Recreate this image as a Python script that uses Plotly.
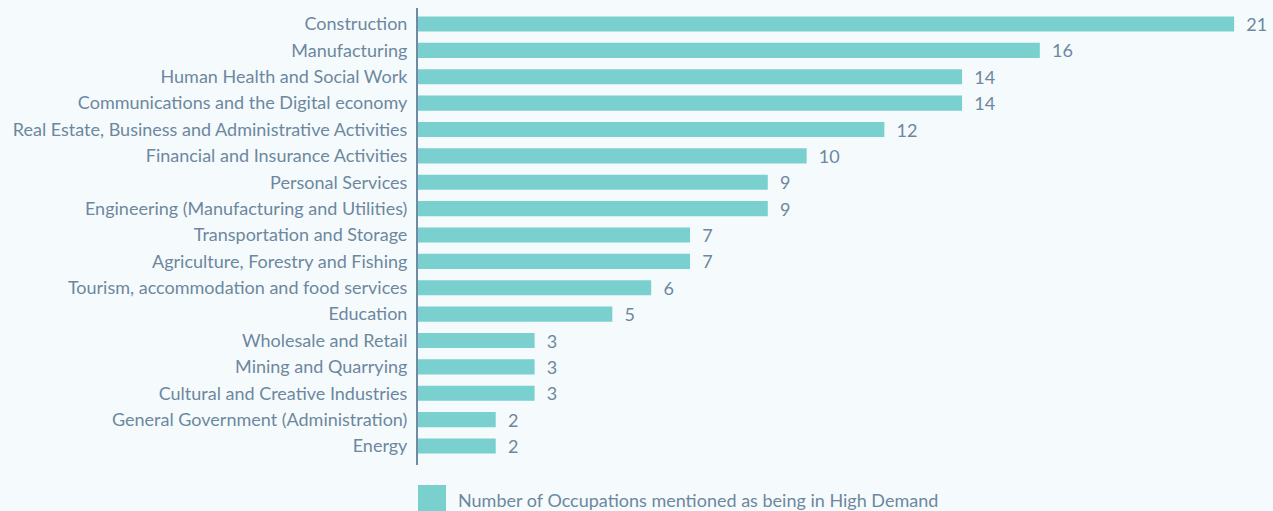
import plotly.graph_objects as go

sectors = [
    "Construction",
    "Manufacturing",
    "Human Health and Social Work",
    "Communications and the Digital economy",
    "Real Estate, Business and Administrative Activities",
    "Financial and Insurance Activities",
    "Personal Services",
    "Engineering (Manufacturing and Utilities)",
    "Transportation and Storage",
    "Agriculture, Forestry and Fishing",
    "Tourism, accommodation and food services",
    "Education",
    "Wholesale and Retail",
    "Mining and Quarrying",
    "Cultural and Creative Industries",
    "General Government (Administration)",
    "Energy",
]
occupations = [21, 16, 14, 14, 12, 10, 9, 9, 7, 7, 6, 5, 3, 3, 3, 2, 2]
series_name = "Number of Occupations mentioned as being in High Demand"

BAR = "#7acfcf"
TXT = "#6d87a0"
BG = "#f5fbfc"
FONT = "Lato"
FS = 18

fig = go.Figure(
    go.Bar(
        y=sectors,
        x=occupations,
        orientation="h",
        marker=dict(color=BAR, line=dict(width=0)),
        text=occupations,
        texttemplate="  %{x}",
        textposition="outside",
        constraintext="none",
        textfont=dict(color=TXT, size=FS, family=FONT),
        outsidetextfont=dict(color=TXT, size=FS, family=FONT),
        cliponaxis=False,
        name=series_name,
        showlegend=False,
    )
)

fig.update_layout(
    width=1273,
    height=511,
    paper_bgcolor=BG,
    plot_bgcolor=BG,
    margin=dict(l=418, r=0, t=8, b=46),
    bargap=0.43,
    font=dict(family=FONT, color=TXT, size=FS),
    xaxis=dict(range=[0, 22], visible=False),
    yaxis=dict(
        categoryorder="array",
        categoryarray=sectors,
        range=[16.72, -0.607],
        showline=True,
        linecolor="#6f8aa3",
        linewidth=2,
        showgrid=False,
        zeroline=False,
        ticks="",
        ticklabelstandoff=5,
        tickfont=dict(size=FS, color=TXT, family=FONT),
    ),
)

# legend swatch and label below the plot
fig.add_shape(
    type="rect", xref="paper", yref="paper",
    x0=0, x1=28 / 855, y0=-52 / 457, y1=-20 / 457,
    fillcolor=BAR, line=dict(width=0),
)
fig.add_annotation(
    xref="paper", yref="paper", x=38 / 855, y=-35 / 457,
    text=series_name, showarrow=False, xanchor="left", yanchor="middle",
    font=dict(size=FS, color=TXT, family=FONT),
)

fig.write_html("out.html")
